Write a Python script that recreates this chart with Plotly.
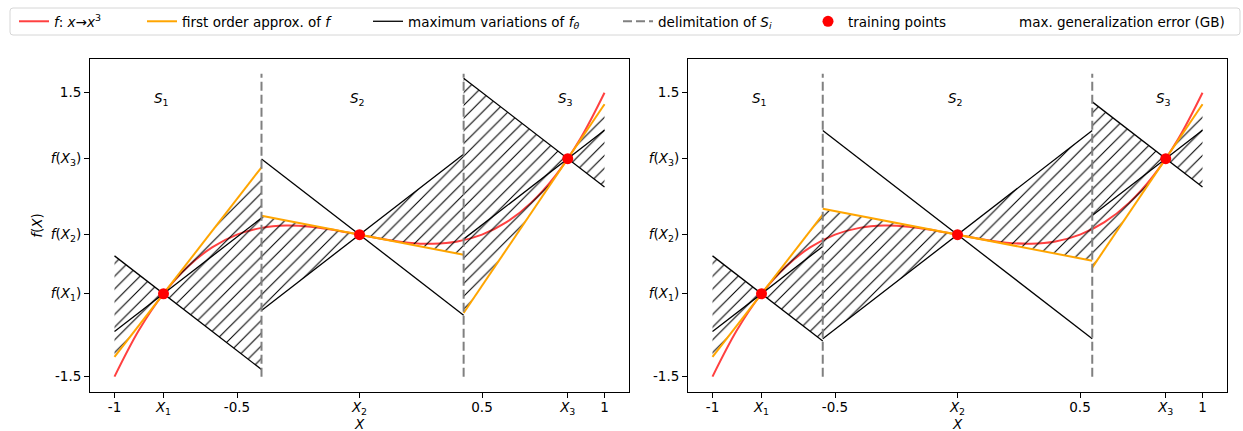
import plotly.graph_objects as go

# --- data -----------------------------------------------------------------
# training points and the value of f at them
X_TRAIN = [-0.8, 0.0, 0.85]
F_TRAIN = [-0.624, 0.0, 0.803]
# slope of f at each training point (first order approximation)
TANGENT_SLOPES = [3.34, -0.5, 3.835]
# maximum slope allowed for f_theta
LIPSCHITZ = 2.0
# cell edges S_1 | S_2 | S_3 for the two partitions
EDGES_LEFT = [-1.0, -0.4, 0.425, 1.0]
EDGES_RIGHT = [-1.0, -0.55, 0.55, 1.0]
# vertical extent of the delimitation lines
DELIM_Y = [-1.5, 1.7]
# samples of f on [-1, 1]
CURVE_X = [-1.0, -0.9, -0.8, -0.7, -0.6, -0.5, -0.4, -0.3, -0.2, -0.1, 0.0,
           0.1, 0.2, 0.3, 0.4, 0.5, 0.6, 0.7, 0.8, 0.9, 1.0]
CURVE_Y = [-1.5, -1.008, -0.624, -0.336, -0.132, 0.0, 0.072, 0.096, 0.084, 0.048, 0.0,
           -0.048, -0.084, -0.096, -0.072, 0.0, 0.132, 0.336, 0.624, 1.008, 1.5]
REGION_LABELS = ["<i>S</i><sub>1</sub>", "<i>S</i><sub>2</sub>", "<i>S</i><sub>3</sub>"]
REGION_LABEL_Y = 1.43

X_TICK_VALS = [-1.0, X_TRAIN[0], -0.5, X_TRAIN[1], 0.5, X_TRAIN[2], 1.0]
X_TICK_TEXT = ["-1", "<i>X</i><sub>1</sub>", "-0.5", "<i>X</i><sub>2</sub>", "0.5",
               "<i>X</i><sub>3</sub>", "1"]
Y_TICK_VALS = [-1.5, F_TRAIN[0], F_TRAIN[1], F_TRAIN[2], 1.5]
Y_TICK_TEXT = ["-1.5", "<i>f</i>(<i>X</i><sub>1</sub>)", "<i>f</i>(<i>X</i><sub>2</sub>)",
               "<i>f</i>(<i>X</i><sub>3</sub>)", "1.5"]

LEGEND_NAMES = ["<i>f</i>: <i>x</i>→<i>x</i><sup>3</sup>",
                "first order approx. of <i>f</i>",
                "maximum variations of <i>f</i><sub><i>θ</i></sub>",
                "delimitation of <i>S</i><sub><i>i</i></sub>",
                "training points",
                "max. generalization error (GB)"]

# --- style ----------------------------------------------------------------
FONT = "DejaVu Sans"
FS = 13.5
RED = "rgba(255,30,30,0.85)"
ORANGE = "#FFA500"
W, H = 1243, 431
X_DOMAINS = [[90 / W, 629 / W], [688 / W, 1227 / W]]

fig = go.Figure()


def add_panel(edges, xa, ya, legend_on):
    # f itself
    fig.add_trace(go.Scatter(
        x=CURVE_X, y=CURVE_Y, mode="lines", line=dict(color=RED, width=2, shape="spline"),
        name=LEGEND_NAMES[0], legend="legend", showlegend=legend_on,
        xaxis=xa, yaxis=ya, hoverinfo="skip"))

    for i in range(3):
        a, b = edges[i], edges[i + 1]
        xi, fi, s = X_TRAIN[i], F_TRAIN[i], TANGENT_SLOPES[i]
        L = LIPSCHITZ
        tan = lambda x: fi + s * (x - xi)
        up = lambda x: fi + L * abs(x - xi)
        lo = lambda x: fi - L * abs(x - xi)

        # hatched region: between the tangent and the farthest admissible bound
        for end in (a, b):
            left = end < xi
            far = up(end) if (s > 0) == left else lo(end)
            fig.add_trace(go.Scatter(
                x=[xi, end, end, xi], y=[fi, tan(end), far, fi], mode="lines",
                fill="toself", fillcolor="rgba(0,0,0,0)",
                fillpattern=dict(shape="/", size=9, solidity=0.12, fgcolor="black",
                                 fgopacity=1, bgcolor="rgba(0,0,0,0)"),
                line=dict(width=0, color="rgba(0,0,0,0)"), showlegend=False,
                xaxis=xa, yaxis=ya, hoverinfo="skip"))

        # first order approximation on the cell
        fig.add_trace(go.Scatter(
            x=[a, b], y=[tan(a), tan(b)], mode="lines",
            line=dict(color=ORANGE, width=2), name=LEGEND_NAMES[1], legend="legend2",
            showlegend=legend_on and i == 0, xaxis=xa, yaxis=ya, hoverinfo="skip"))
        # the two steepest admissible lines through the training point
        for sign in (1, -1):
            fig.add_trace(go.Scatter(
                x=[a, b], y=[fi + sign * L * (a - xi), fi + sign * L * (b - xi)],
                mode="lines", line=dict(color="black", width=1.3),
                name=LEGEND_NAMES[2], legend="legend3",
                showlegend=legend_on and i == 0 and sign == 1,
                xaxis=xa, yaxis=ya, hoverinfo="skip"))

    # cell boundaries
    for k, e in enumerate(edges[1:-1]):
        fig.add_trace(go.Scatter(
            x=[e, e], y=DELIM_Y, mode="lines",
            line=dict(color="grey", width=2, dash="9px,4px"),
            name=LEGEND_NAMES[3], legend="legend4", showlegend=legend_on and k == 0,
            xaxis=xa, yaxis=ya, hoverinfo="skip"))

    # training points
    fig.add_trace(go.Scatter(
        x=X_TRAIN, y=F_TRAIN, mode="markers", marker=dict(color="red", size=11),
        name=LEGEND_NAMES[4], legend="legend5", showlegend=legend_on,
        xaxis=xa, yaxis=ya, hoverinfo="skip"))

    if legend_on:
        fig.add_trace(go.Scatter(
            x=[None], y=[None], mode="lines", line=dict(color="rgba(0,0,0,0)"),
            name=LEGEND_NAMES[5], legend="legend6", showlegend=True,
            xaxis=xa, yaxis=ya, hoverinfo="skip"))

    for i in range(3):
        fig.add_annotation(x=X_TRAIN[i] - 0.01, y=REGION_LABEL_Y, xref=xa, yref=ya,
                           text=REGION_LABELS[i], showarrow=False,
                           font=dict(family=FONT, size=FS, color="black"))

    # x-axis title centred under the panel
    fig.add_annotation(x=0, y=1 - 424 / H, xref=xa, yref="paper",
                       text="<i>X</i>", showarrow=False, yanchor="middle", borderpad=0,
                       font=dict(family=FONT, size=FS, color="black"))


add_panel(EDGES_LEFT, "x", "y", True)
add_panel(EDGES_RIGHT, "x2", "y2", False)

axis_common = dict(showline=True, mirror=True, linecolor="black", linewidth=1,
                   ticks="outside", ticklen=5, tickwidth=1, tickcolor="black",
                   showgrid=False, zeroline=False, automargin=False,
                   tickfont=dict(family=FONT, size=FS, color="black"))
x_common = dict(axis_common, range=[-1.1, 1.1], tickmode="array",
                tickvals=X_TICK_VALS, ticktext=X_TICK_TEXT, ticklabelstandoff=-2)
y_common = dict(axis_common, range=[-1.662, 1.856], tickmode="array",
                tickvals=Y_TICK_VALS, ticktext=Y_TICK_TEXT)

y_dom = [1 - 392 / H, 1 - 59 / H]
fig.update_layout(
    width=W, height=H, margin=dict(l=0, r=0, t=0, b=0, autoexpand=False),
    paper_bgcolor="white", plot_bgcolor="white",
    font=dict(family=FONT, size=FS, color="black"),
    xaxis=dict(x_common, domain=X_DOMAINS[0], anchor="y"),
    yaxis=dict(y_common, domain=y_dom, anchor="x",
               title=dict(text="<i>f</i>(<i>X</i>)",
                          font=dict(family=FONT, size=FS, color="black"), standoff=4)),
    xaxis2=dict(x_common, domain=X_DOMAINS[1], anchor="y2"),
    yaxis2=dict(y_common, domain=y_dom, anchor="x2"),
)

# one legend per entry so every item sits where it should inside a shared frame
text_starts = [54, 182, 408, 658, 848, 1019]
legend_keys = ["legend", "legend2", "legend3", "legend4", "legend5", "legend6"]
for key, tx in zip(legend_keys, text_starts):
    fig.update_layout({key: dict(x=(tx - 40) / W, y=1 - 21.5 / H, xanchor="left",
                                 yanchor="middle", orientation="h",
                                 bgcolor="rgba(0,0,0,0)", borderwidth=0,
                                 font=dict(family=FONT, size=FS, color="black"))})

# legend frame with rounded corners
x0, x1, y0, y1 = 10 / W, 1240 / W, 1 - 35 / H, 1 - 8 / H
rx, ry = 3 / W, 3 / H
path = (f"M{x0+rx},{y1} L{x1-rx},{y1} Q{x1},{y1} {x1},{y1-ry} L{x1},{y0+ry} "
        f"Q{x1},{y0} {x1-rx},{y0} L{x0+rx},{y0} Q{x0},{y0} {x0},{y0+ry} "
        f"L{x0},{y1-ry} Q{x0},{y1} {x0+rx},{y1} Z")
fig.add_shape(type="path", path=path, xref="paper", yref="paper",
              line=dict(color="#d6d6d6", width=1), fillcolor="rgba(0,0,0,0)")

fig.write_html("out.html")
